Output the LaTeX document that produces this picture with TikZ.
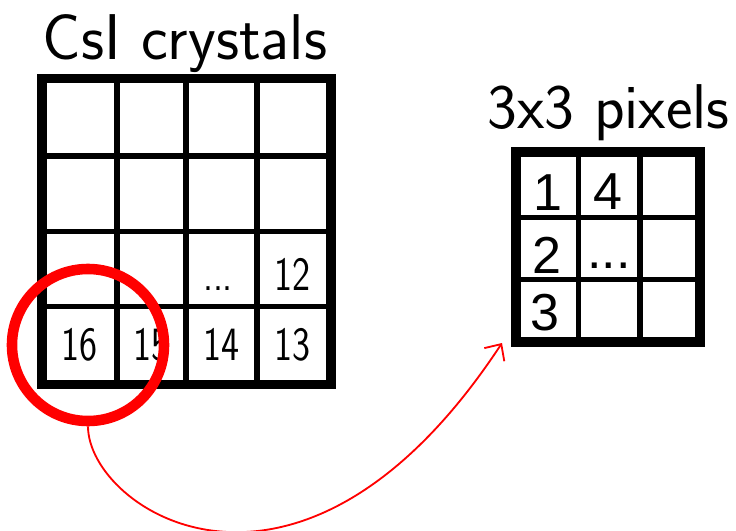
\documentclass[tikz,border=0pt]{standalone}
\usepackage{fontspec}
\newfontfamily\arialfont{Liberation Sans}
\usetikzlibrary{arrows.meta}

\begin{document}
\begin{tikzpicture}[x=0.025cm, y=-0.025cm,
  frame/.style={line width=7pt},
  gridline/.style={line width=4.1pt},
  title/.style={font=\sffamily\fontsize{46}{50}\selectfont, anchor=base, inner sep=0pt},
  crystal/.style={font=\sffamily\fontsize{34}{40}\selectfont, anchor=base, inner sep=0pt},
  pixel/.style={font=\arialfont\fontsize{37}{40}\selectfont, anchor=base, inner sep=0pt},
  marker/.style={draw=red, circle, line width=7.5pt, inner sep=0pt, minimum size=3.8cm},
  link/.style={draw=red, line width=1.3pt, -{Straight Barb[length=9pt,width=17pt]}}
]
\useasboundingbox (0,0) rectangle (736,531);

% CsI crystals, 4x4
\node[title] (crystaltitle) at (185,60) {\scalebox{0.99}[1]{CsI crystals}};
\foreach \x in {117,186,257} \draw[gridline] (\x,78.5) -- (\x,384.5);
\foreach \y in {156,231.5,306.5} \draw[gridline] (42,\y) -- (331,\y);
\draw[frame] (42,78.5) rectangle (331,384.5);
\node[crystal] (c12) at (292,290) {\scalebox{0.8}[1]{12}};
\node[crystal] (cdots) at (218,290) {\scalebox{0.8}[1]{...}};
\node[crystal] (c13) at (292,360) {\scalebox{0.8}[1]{13}};
\node[crystal] (c14) at (221,360) {\scalebox{0.8}[1]{14}};
\node[crystal] (c15) at (151.5,360) {\scalebox{0.8}[1]{15}};
\node[crystal] (c16) at (79.5,360) {\scalebox{0.8}[1]{16}};

% 3x3 pixels
\node[title, font=\sffamily\fontsize{45}{50}\selectfont] (pixeltitle) at (608.5,129) {3x3 pixels};
\foreach \x in {578.5,640} \draw[gridline] (\x,152) -- (\x,342);
\foreach \y in {217.5,279.5} \draw[gridline] (516,\y) -- (700,\y);
\draw[frame] (516,152) rectangle (700,342);
\node[pixel] (p1) at (548,210) {1};
\node[pixel] (p4) at (608,209) {4};
\node[pixel] (p2) at (547,273) {2};
\node[pixel] (pdots) at (609,268) {...};
\node[pixel] (p3) at (545,330) {3};

% readout of the corner crystals
\node[marker] (focus) at (88,345) {};
\coordinate (pixtip) at (502,343);
\draw[link] (focus.south) .. controls (88,510) and (300,650) .. (pixtip);
\end{tikzpicture}
\end{document}
